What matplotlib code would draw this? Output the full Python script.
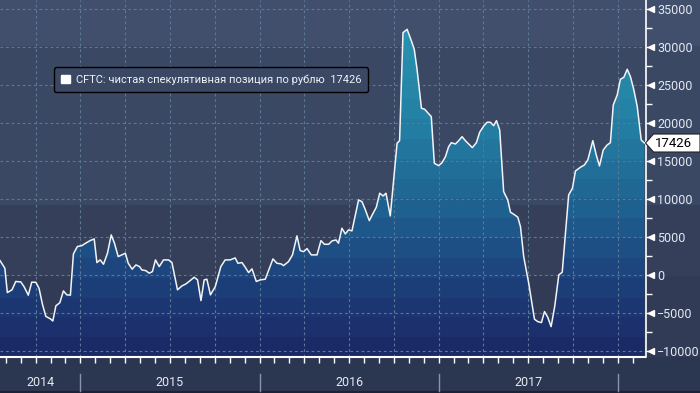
import numpy as np
import matplotlib
matplotlib.use('Agg')
from matplotlib import pyplot as plt
from matplotlib.colors import to_rgb
from matplotlib.patches import Polygon, Patch, Rectangle
from matplotlib.lines import Line2D
from matplotlib.ticker import MultipleLocator

# DATA (weekly CFTC net speculative position in RUB, dates as decimal years)
dates = [
    2014.551, 2014.578, 2014.592, 2014.618, 2014.639, 2014.667, 2014.685, 2014.709, 2014.728, 2014.751,
    2014.769, 2014.788, 2014.807, 2014.831, 2014.846, 2014.863, 2014.885, 2014.905, 2014.924, 2014.944,
    2014.961, 2014.983,
    2015.008, 2015.032, 2015.054, 2015.077, 2015.092, 2015.110, 2015.129, 2015.151, 2015.172, 2015.190,
    2015.211, 2015.231, 2015.251, 2015.267, 2015.289, 2015.310, 2015.330, 2015.343, 2015.365, 2015.384,
    2015.402, 2015.419, 2015.440, 2015.464, 2015.492, 2015.511, 2015.542, 2015.567, 2015.589, 2015.613,
    2015.635, 2015.654, 2015.673, 2015.691, 2015.706, 2015.726, 2015.753, 2015.784, 2015.808, 2015.836,
    2015.864, 2015.879, 2015.902, 2015.920, 2015.939, 2015.958, 2015.982,
    2016.004, 2016.032, 2016.075, 2016.097, 2016.121, 2016.134, 2016.162, 2016.184, 2016.209, 2016.227,
    2016.246, 2016.265, 2016.289, 2016.321, 2016.343, 2016.362, 2016.386, 2016.405, 2016.427, 2016.441,
    2016.460, 2016.479, 2016.497, 2016.516, 2016.553, 2016.572, 2016.591, 2016.613, 2016.631, 2016.652,
    2016.671, 2016.690, 2016.706, 2016.730, 2016.768, 2016.782, 2016.801, 2016.824, 2016.846, 2016.864,
    2016.880, 2016.904, 2016.922, 2016.959, 2016.976,
    2017.000, 2017.019, 2017.038, 2017.056, 2017.071, 2017.094, 2017.112, 2017.131, 2017.149, 2017.168,
    2017.188, 2017.211, 2017.229, 2017.252, 2017.271, 2017.289, 2017.307, 2017.323, 2017.341, 2017.363,
    2017.386, 2017.401, 2017.425, 2017.442, 2017.457, 2017.475, 2017.503, 2017.535, 2017.553, 2017.574,
    2017.591, 2017.609, 2017.628, 2017.648, 2017.671, 2017.690, 2017.708, 2017.726, 2017.747, 2017.764,
    2017.792, 2017.814, 2017.833, 2017.861, 2017.880, 2017.898, 2017.919, 2017.941, 2017.959, 2017.975,
    2017.997,
    2018.015, 2018.034, 2018.053, 2018.071, 2018.090, 2018.109, 2018.131, 2018.149,
]
net_position = [
    1950, 950, -2260, -1900, -800, -860, -1470, -2600, -900, -900,
    -1700, -3800, -5400, -5700, -6000, -4000, -3600, -2040, -2560, -2600,
    2830, 3800,
    3920, 4280, 4580, 4800, 1690, 2040, 1470, 2920, 5330, 4240,
    2480, 2700, 2920, 1600, 820, 1380, 1160, 720, 630, 290,
    500, 2040, 1160, 2040, 2040, 1690, -1900, -1380, -1120, -680,
    -240, -590, -3320, -590, -500, -2560, -1470, 1160, 2040, 2040,
    2300, 1600, 1690, 1080, 370, 860, -800,
    -590, -500, 2170, 1600, 1510, 1290, 1820, 2700, 5200, 3270,
    3130, 3530, 2700, 2700, 4580, 4100, 4100, 4540, 4670, 4240,
    6210, 5460, 5990, 5860, 9930, 9710, 8620, 7210, 8050, 8970,
    10820, 10460, 10820, 7830, 17400, 17740, 31950, 32390, 30990, 29760,
    27040, 22000, 21870, 20900, 14760,
    14450, 14840, 15630, 16950, 17470, 17300, 17740, 18260, 17740, 17300,
    16820, 17470, 18840, 19670, 20160, 20160, 19710, 20370, 19140, 11030,
    9930, 8320, 7960, 7660, 6420, 2470, -1030, -5760, -6080, -6210,
    -4760, -5500, -6740, -4100, 70, 420, 5550, 10590, 11470, 13750,
    14240, 14540, 15200, 17740, 15860, 14410, 16510, 17170, 17470, 22430,
    23750,
    25820, 26080, 27130, 26160, 24410, 22210, 17830, 17426,
]
year_labels = ['2014', '2015', '2016', '2017']
year_bounds = [2015, 2016, 2017, 2018]
y_ticks = list(range(-10000, 35001, 5000))
series_name = 'CFTC: чистая спекулятивная позиция по рублю'
last_value = net_position[-1]

plt.rcParams['font.family'] = ['Roboto', 'DejaVu Sans']

W, H = 700, 393
XMIN, XMAX = 2014.551, 2018.155
YMIN, YMAX = -10700, 36250
BOTTOM = 1 - 356.7 / H
RIGHT = 645.5 / W

fig = plt.figure(figsize=(W / 100, H / 100), dpi=100)
fig.patch.set_facecolor('#2b3651')

# banded background behind plot and right label column
bg = fig.add_axes([0, BOTTOM, 1, 1 - BOTTOM], zorder=0)
rows = np.linspace(YMIN, YMAX, 400)
bg_cols = []
for v in rows:
    if v > 30300:
        bg_cols.append(to_rgb('#424f6c'))
    elif v > 9200:
        bg_cols.append(to_rgb('#3b4864'))
    elif v > 0:
        bg_cols.append(to_rgb('#353f5a'))
    else:
        bg_cols.append(to_rgb('#313b55'))
bg.imshow(np.array(bg_cols)[:, None, :], extent=[0, 1, YMIN, YMAX], origin='lower',
          aspect='auto', interpolation='nearest')
bg.set_xlim(0, 1)
bg.set_ylim(YMIN, YMAX)
bg.axis('off')

ax = fig.add_axes([0, BOTTOM, RIGHT, 1 - BOTTOM], zorder=1)
ax.set_facecolor('none')
ax.set_xlim(XMIN, XMAX)
ax.set_ylim(YMIN, YMAX)

# banded gradient fill under the curve
anchor_v = [-10700, -5000, 0, 5000, 10000, 20000, 33000]
anchor_c = [to_rgb(c) for c in ['#1a2865', '#1c3471', '#1d437c', '#1e5387', '#1f6592', '#247fa4', '#2995b2']]
n_bands = 18
edges = np.linspace(YMIN, YMAX, n_bands + 1)
centers = (edges[:-1] + edges[1:]) / 2
band_rgb = np.array([[np.interp(c, anchor_v, [a[k] for a in anchor_c]) for k in range(3)] for c in centers])
img = ax.imshow(band_rgb[:, None, :], extent=[XMIN, XMAX, YMIN, YMAX], origin='lower',
                aspect='auto', interpolation='nearest', zorder=1)
verts = [(dates[0], YMIN)] + list(zip(dates, net_position)) + [(dates[-1], YMIN)]
clip = Polygon(verts, closed=True, facecolor='none', edgecolor='none', transform=ax.transData)
ax.add_patch(clip)
img.set_clip_path(clip)

# dashed grid
grid_kw = dict(color='#5b7894', lw=0.8, ls=(0, (2.5, 2.5)), zorder=2)
for v in y_ticks:
    ax.axhline(v, **grid_kw)
for q in np.arange(2014.75, XMAX, 0.25):
    ax.axvline(q, **grid_kw)

ax.plot(dates, net_position, color='#f2f4f8', lw=1.1, zorder=3)

# axes styling
for s in ['top', 'left']:
    ax.spines[s].set_visible(False)
ax.spines['bottom'].set_color('white')
ax.spines['bottom'].set_linewidth(1.5)
ax.spines['right'].set_color('white')
ax.spines['right'].set_linewidth(1.2)

months = np.arange(2014 + 7 / 12, XMAX, 1 / 12)
ax.set_xticks(months)
ax.tick_params(axis='x', direction='out', length=4, width=1, color='white', labelbottom=False)

ax.yaxis.tick_right()
ax.set_yticks(y_ticks)
ax.yaxis.set_minor_locator(MultipleLocator(2500))
ax.tick_params(axis='y', which='major', length=6, width=1, color='white',
               labelcolor='#e4e9f0', labelsize=9, pad=2.5)
ax.tick_params(axis='y', which='minor', length=4, width=1, color='white')
ax.plot([1.0085] * len(y_ticks), y_ticks, marker='<', ms=4, color='white', ls='none',
        clip_on=False, transform=ax.get_yaxis_transform(), zorder=4)

# year labels in bottom strip
for b in year_bounds:
    xf = ax.transData.transform((b, 0))[0] / W
    fig.add_artist(Line2D([xf, xf], [2 / H, 19 / H], color='#8a94a8', lw=1))
for i, lab in enumerate(year_labels):
    lo = max(XMIN, year_bounds[i] - 1)
    xf = ax.transData.transform(((lo + year_bounds[i]) / 2, 0))[0] / W
    fig.text(xf, 10.5 / H, lab, color='#e6eaf0', fontsize=9, ha='center', va='center')
fig.add_artist(Rectangle((0, 0), 1, 2 / H, transform=fig.transFigure, color='#1b2236', lw=0))

# legend
handle = Patch(facecolor='white', edgecolor='white')
leg = ax.legend([handle], [series_name + '  ' + str(last_value)], loc='upper left',
                bbox_to_anchor=(54 / (W * RIGHT), 1 - 67.3 / 356.7), borderaxespad=0,
                fontsize=8, handlelength=0.8, handleheight=0.8, handletextpad=0.5,
                borderpad=0.65, fancybox=True, framealpha=1)
leg.get_frame().set_facecolor('#3b4864')
leg.get_frame().set_edgecolor('black')
leg.get_frame().set_linewidth(1)
for t in leg.get_texts():
    t.set_color('#eef2f7')

# last value flag
yd = ax.transData.transform((XMAX, last_value))[1]
xd = RIGHT * W
flag = [(xd, yd), (xd + 8, yd + 9), (W, yd + 9), (W, yd - 9), (xd + 8, yd - 9)]
fig.add_artist(Polygon([(px / W, py / H) for px, py in flag], closed=True, facecolor='white',
                       edgecolor='#222222', lw=0.8, transform=fig.transFigure, zorder=5))
fig.text((xd + 9) / W, yd / H, str(last_value), color='black', fontsize=9.5,
         ha='left', va='center', zorder=6)

fig.savefig('out.png', dpi=100, facecolor=fig.get_facecolor())
